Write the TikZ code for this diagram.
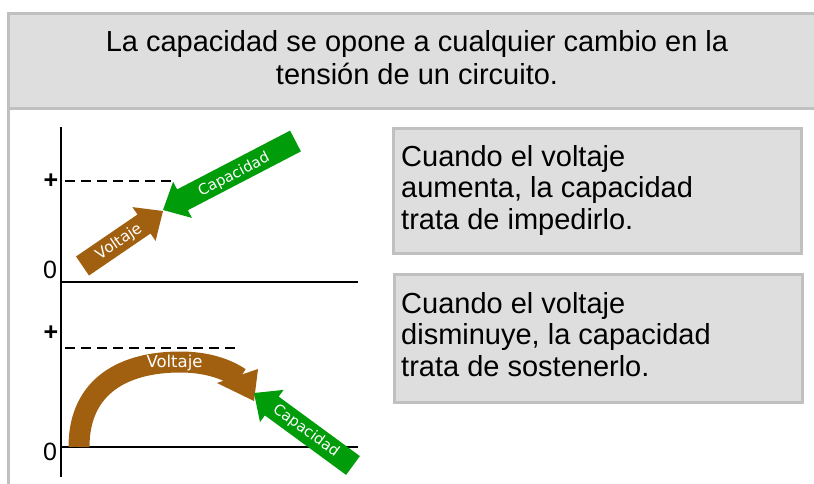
\documentclass[tikz,border=0pt]{standalone}
\usepackage{fontspec}
\setmainfont{Liberation Sans}
\newfontfamily\dvfont{DejaVu Sans}
\definecolor{boxfill}{HTML}{DEDEDE}
\definecolor{boxline}{HTML}{C0C0C0}
\definecolor{voltbrown}{HTML}{A15F10}
\definecolor{capgreen}{HTML}{009C0A}
\begin{document}
\begin{tikzpicture}[x=1pt,y=-1pt,
  panel/.style={draw=boxline,fill=boxfill,line width=3pt},
  headtext/.style={inner sep=0pt,align=center,font=\fontsize{29}{33}\selectfont},
  boxtext/.style={inner sep=0pt,align=left,anchor=north west,font=\fontsize{29}{31.7}\selectfont},
  axisline/.style={line width=1.8pt,black},
  dashline/.style={line width=1.8pt,black,dash pattern=on 9.5pt off 6.5pt},
  ticklabel/.style={inner sep=0pt,font=\fontsize{25}{25}\selectfont},
  arrowtext/.style={inner sep=0pt,text=white,font=\dvfont\fontsize{14.8}{14.8}\selectfont},
  brownfill/.style={fill=voltbrown,draw=none},
  greenfill/.style={fill=capgreen,draw=none}]
\useasboundingbox (0,0) rectangle (814,483);
\clip (0,0) rectangle (814,483);
% frame
\path[panel] (8.5,13.5) rectangle (830,108.5);
\draw[boxline,line width=3pt] (8.5,108.5) -- (8.5,490);
\node[headtext,anchor=north] (head) at (417,30.5) {La capacidad se opone a cualquier cambio en la\\tensión de un circuito.};
% info boxes
\path[panel] (393,128) rectangle (801,253);
\node[boxtext] (t1) at (401,144.8) {Cuando el voltaje\\aumenta, la capacidad\\trata de impedirlo.};
\path[panel] (394,274) rectangle (802,402);
\node[boxtext] (t2) at (401,291.8) {Cuando el voltaje\\disminuye, la capacidad\\trata de sostenerlo.};
% axes
\draw[axisline] (61,127) -- (61,477);
\draw[axisline] (61,282) -- (358,282);
\draw[axisline] (61,447) -- (358,447);
\draw[dashline] (65,181) -- (175,181);
\draw[dashline] (65,348) -- (238,348);
\node[ticklabel,font=\bfseries\fontsize{25}{25}\selectfont] (p1) at (51,181) {+};
\node[ticklabel] (z1) at (50,270) {0};
\node[ticklabel,font=\bfseries\fontsize{25}{25}\selectfont] (p2) at (51,333) {+};
\node[ticklabel] (z2) at (50,452) {0};
% upper voltage arrow
\path[brownfill] (76.0,256.5) -- (137.5,214.5) -- (132.4,207.1) -- (163,211) -- (155.6,240.9) -- (150.5,233.5) -- (89.0,275.5) -- cycle;
\node[arrowtext,rotate=34.3,font=\dvfont\fontsize{15.3}{15.3}\selectfont] (v1) at (119,242) {Voltaje};
% upper capacity arrow
\path[greenfill] (290.1,130.6) -- (177.1,189.4) -- (173.1,181.7) -- (163,210) -- (191.9,217.9) -- (187.9,210.2) -- (300.9,151.4) -- cycle;
\node[arrowtext,rotate=27.5] (c1) at (234,175) {Capacidad};
% lower voltage arc
\draw[voltbrown,line width=21pt] (79,447) .. controls (79,385) and (125,362) .. (180,362) .. controls (205,362) and (225,368) .. (240,378);
\path[brownfill] (217,383) -- (258,369) -- (254,401) -- cycle;
\node[arrowtext,font=\dvfont\fontsize{16.5}{16.5}\selectfont] (v2) at (174.5,363) {Voltaje};
% lower capacity arrow
\path[greenfill] (359.9,456.1) -- (278.7,396.6) -- (283.6,389.9) -- (254,393) -- (260.0,422.1) -- (264.9,415.4) -- (346.1,474.9) -- cycle;
\node[arrowtext,rotate=-36.2] (c2) at (306,431) {Capacidad};
\end{tikzpicture}
\end{document}
